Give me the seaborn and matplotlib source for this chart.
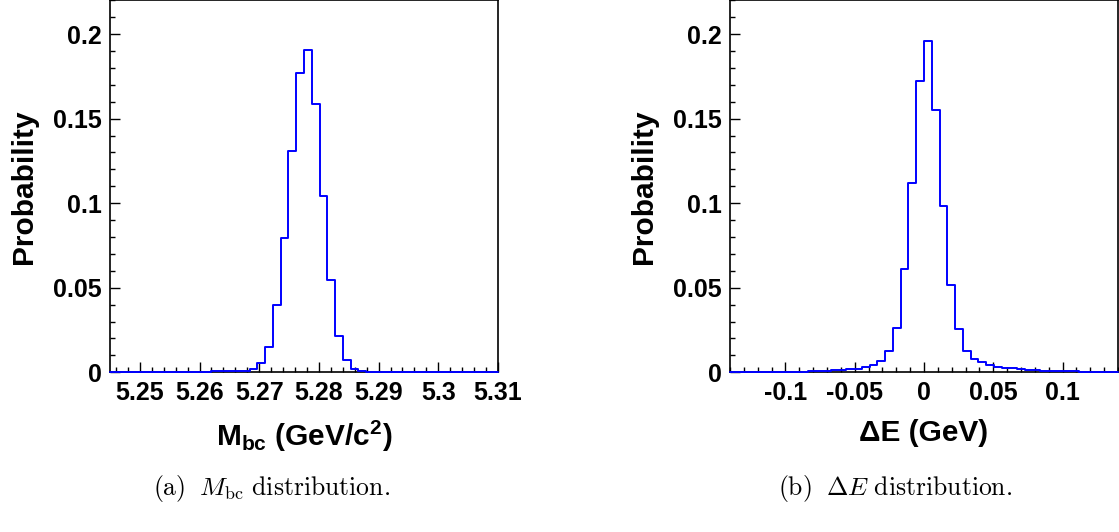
import numpy as np
import pandas as pd
import matplotlib
matplotlib.use("Agg")
import matplotlib.pyplot as plt
from matplotlib.ticker import MultipleLocator
import seaborn as sns

# M_bc histogram: 50 bins over [5.245, 5.31] GeV/c^2, normalised to unit area
mbc_range = (5.245, 5.31)
mbc_prob = [
    0.0001, 0.0001, 0.0001, 0.0001, 0.0001, 0.0001, 0.0001, 0.0001, 0.0001, 0.0003,
    0.0003, 0.0003, 0.0003, 0.0005, 0.0005, 0.0005, 0.0007, 0.0010, 0.0018, 0.0055,
    0.0150, 0.0396, 0.0793, 0.1308, 0.1773, 0.1907, 0.1584, 0.1043, 0.0544, 0.0213,
    0.0070, 0.0020, 0.0006, 0.0002, 0.0001, 0.0001, 0.0001, 0.0001, 0.0001, 0.0001,
    0.0001, 0.0001, 0.0001, 0.0001, 0.0001, 0.0001, 0.0001, 0.0001, 0.0001, 0.0001,
]

# Delta E histogram: 50 bins over [-0.14, 0.14] GeV
de_range = (-0.14, 0.14)
de_prob = [
    0.0002, 0.0002, 0.0002, 0.0002, 0.0002, 0.0002, 0.0002, 0.0004, 0.0004, 0.0004,
    0.0008, 0.0008, 0.0010, 0.0012, 0.0016, 0.0018, 0.0022, 0.0032, 0.0041, 0.0068,
    0.0126, 0.0263, 0.0611, 0.1120, 0.1722, 0.1960, 0.1554, 0.0986, 0.0515, 0.0256,
    0.0126, 0.0081, 0.0059, 0.0045, 0.0032, 0.0028, 0.0024, 0.0020, 0.0016, 0.0012,
    0.0010, 0.0008, 0.0006, 0.0006, 0.0006, 0.0004, 0.0004, 0.0004, 0.0004, 0.0004,
]

mbc_ticks = [5.25, 5.26, 5.27, 5.28, 5.29, 5.30, 5.31]
mbc_ticklabels = ["5.25", "5.26", "5.27", "5.28", "5.29", "5.3", "5.31"]
de_ticks = [-0.1, -0.05, 0.0, 0.05, 0.1]
de_ticklabels = ["-0.1", "-0.05", "0", "0.05", "0.1"]
y_ticks = [0, 0.05, 0.1, 0.15, 0.2]
y_ticklabels = ["0", "0.05", "0.1", "0.15", "0.2"]

sns.set_theme(style="ticks")
plt.rcParams["font.family"] = ["Liberation Sans", "DejaVu Sans"]
plt.rcParams["font.weight"] = "bold"
plt.rcParams["text.color"] = "black"
plt.rcParams["axes.labelcolor"] = "black"
plt.rcParams["xtick.color"] = "black"
plt.rcParams["ytick.color"] = "black"
plt.rcParams["mathtext.fontset"] = "custom"
plt.rcParams["mathtext.rm"] = "Liberation Sans:bold"
plt.rcParams["mathtext.it"] = "Liberation Sans:bold"
plt.rcParams["mathtext.bf"] = "Liberation Sans:bold"

W, H = 1119, 532
fig = plt.figure(figsize=(W / 100, H / 100), dpi=100)
ax1 = fig.add_axes([110 / W, 1 - 372.3 / H, 388 / W, 372 / H])
ax2 = fig.add_axes([730 / W, 1 - 372.3 / H, 388 / W, 372 / H])


def draw_hist(ax, rng, probs):
    nbins = len(probs)
    edges = np.linspace(rng[0], rng[1], nbins + 1)
    df = pd.DataFrame({"x": 0.5 * (edges[:-1] + edges[1:]),
                       "p": np.asarray(probs, dtype=float)})
    sns.histplot(data=df, x="x", weights="p", bins=nbins, binrange=rng,
                 element="step", fill=False, color="#0000ff", linewidth=1.4,
                 ax=ax)
    # keep the outline on top of the frame so the flat tails stay visible
    for line in ax.lines:
        line.set_zorder(3)
        line.set_clip_on(False)
    ax.set_xlim(*rng)
    ax.set_ylim(0, 0.22)


def style_axes(ax, ticks, labels, minor_step, xlabel):
    ax.set_xticks(ticks)
    ax.set_xticklabels(labels)
    ax.xaxis.set_minor_locator(MultipleLocator(minor_step))
    ax.set_yticks(y_ticks)
    ax.set_yticklabels(y_ticklabels)
    ax.yaxis.set_minor_locator(MultipleLocator(0.01))
    ax.tick_params(which="both", direction="in", top=False, right=False,
                   width=1.0, color="black")
    ax.tick_params(which="major", length=7.5, labelsize=18, pad=6)
    ax.tick_params(which="minor", length=3.8)
    for t in ax.get_xticklabels() + ax.get_yticklabels():
        t.set_fontweight("bold")
    for s in ax.spines.values():
        s.set_visible(True)
        s.set_linewidth(1.2)
        s.set_color("black")
    ax.set_xlabel(xlabel, fontsize=21.5, fontweight="bold", labelpad=10)
    ax.set_ylabel("Probability", fontsize=21.5, fontweight="bold", labelpad=11)


draw_hist(ax1, mbc_range, mbc_prob)
draw_hist(ax2, de_range, de_prob)
style_axes(ax1, mbc_ticks, mbc_ticklabels, 0.002,
           r"M$_{\mathbf{bc}}$ (GeV/c$^{\mathbf{2}}$)")
style_axes(ax2, de_ticks, de_ticklabels, 0.01, "\u0394E (GeV)")

fig.text(272 / W, 1 - 489 / H,
         r"$\mathrm{(a)}\;\ M_{\mathrm{bc}}\ \mathrm{distribution.}$",
         ha="center", va="center", fontsize=18.5, math_fontfamily="cm")
fig.text(895 / W, 1 - 489 / H,
         r"$\mathrm{(b)}\;\ \Delta E\ \mathrm{distribution.}$",
         ha="center", va="center", fontsize=18.5, math_fontfamily="cm")

fig.savefig("out.png", dpi=100, facecolor="white")
